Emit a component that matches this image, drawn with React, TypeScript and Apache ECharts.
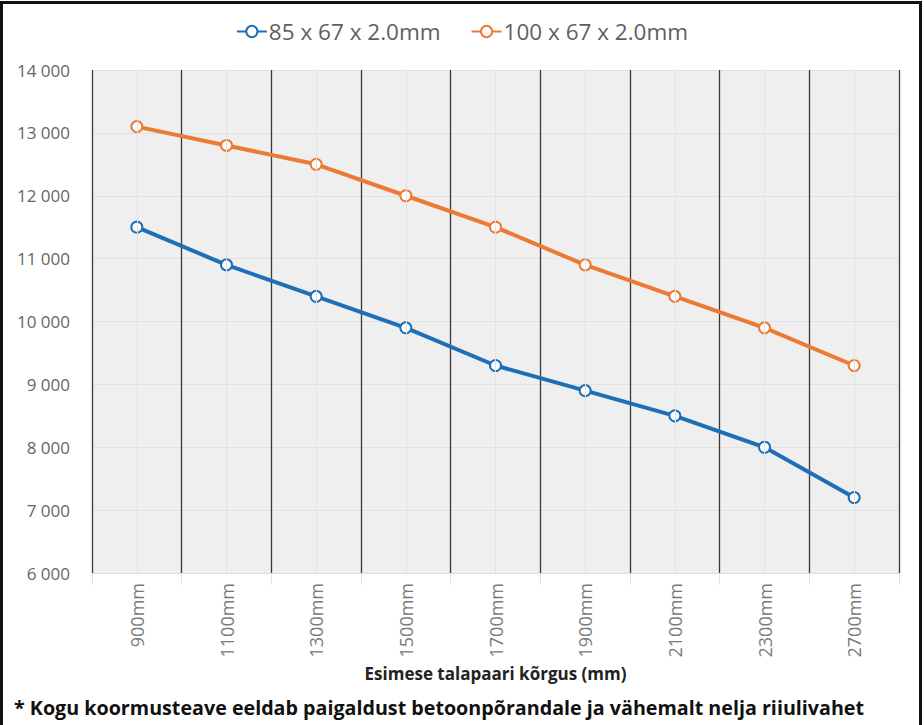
import React, { useEffect, useRef } from "react";
import * as echarts from "echarts";

const categories = ["900mm", "1100mm", "1300mm", "1500mm", "1700mm", "1900mm", "2100mm", "2300mm", "2700mm"];
const seriesA = [11500, 10900, 10400, 9900, 9300, 8900, 8500, 8000, 7200];
const seriesB = [13100, 12800, 12500, 12000, 11500, 10900, 10400, 9900, 9300];
const nameA = "85 x 67 x 2.0mm";
const nameB = "100 x 67 x 2.0mm";
const xAxisTitle = "Esimese talapaari kõrgus (mm)";
const footnote = "* Kogu koormusteave eeldab paigaldust betoonpõrandale ja vähemalt nelja riiulivahet";

const FONT = "'Open Sans', 'Noto Sans', sans-serif";

export default function App() {
  const ref = useRef<HTMLDivElement>(null);
  useEffect(() => {
    if (!ref.current) return;
    const chart = echarts.init(ref.current, undefined, { renderer: "svg" });
    chart.setOption({
      animation: false,
      backgroundColor: "#ffffff",
      textStyle: { fontFamily: FONT },
      legend: {
        data: [nameA, nameB],
        top: 15,
        left: "center",
        itemWidth: 30,
        itemHeight: 14,
        itemGap: 30,
        textStyle: { fontSize: 22.5, color: "#5f5f5f", fontFamily: FONT, padding: [0, 0, 0, -3] },
      },
      grid: {
        left: 92,
        right: 25,
        top: 70,
        bottom: 152,
        show: true,
        backgroundColor: "#efefef",
        borderWidth: 0,
      },
      xAxis: {
        type: "category",
        data: categories,
        boundaryGap: true,
        name: xAxisTitle,
        nameLocation: "middle",
        nameGap: 90,
        nameTextStyle: { fontSize: 17, fontWeight: "bold", color: "#222", fontFamily: FONT },
        axisLine: { show: true, lineStyle: { color: "#dcdcdc" } },
        axisTick: { show: true, length: 12, lineStyle: { color: "#e3e3e3" } },
        axisLabel: { rotate: 90, margin: 10, fontSize: 18, color: "#7a7a7a", fontFamily: FONT },
        splitLine: { show: true, lineStyle: { color: "#3a3a3a", width: 1.3 } },
      },
      yAxis: {
        type: "value",
        min: 6000,
        max: 14000,
        interval: 1000,
        axisLine: { show: false },
        axisTick: { show: false },
        axisLabel: {
          margin: 22,
          fontSize: 17,
          color: "#666666",
          fontFamily: FONT,
          formatter: (v: number) => String(v).replace(/\B(?=(\d{3})+(?!\d))/g, " "),
        },
        splitLine: { show: true, lineStyle: { color: "#e2e2e2", width: 1 } },
      },
      series: [
        {
          name: "centers",
          type: "line",
          data: categories.map(() => null),
          z: 1,
          silent: true,
          markLine: {
            silent: true,
            symbol: "none",
            label: { show: false },
            lineStyle: { color: "#e2e2e2", type: "solid", width: 1 },
            data: categories.map((c) => ({ xAxis: c })),
          },
        },
        {
          name: nameA,
          type: "line",
          data: seriesA,
          symbol: "emptyCircle",
          symbolSize: 11,
          color: "#1f6fb6",
          lineStyle: { width: 4, color: "#1f6fb6" },
          itemStyle: { color: "#1f6fb6", borderWidth: 3 },
          z: 3,
        },
        {
          name: nameB,
          type: "line",
          data: seriesB,
          symbol: "emptyCircle",
          symbolSize: 11,
          color: "#ec7a35",
          lineStyle: { width: 4, color: "#ec7a35" },
          itemStyle: { color: "#ec7a35", borderWidth: 3 },
          z: 3,
        },
      ],
      graphic: [
        {
          type: "rect",
          shape: { x: 1.5, y: 2.5, width: 919, height: 760 },
          style: { fill: "none", stroke: "#111", lineWidth: 3 },
          silent: true,
        },
        {
          type: "text",
          left: 14,
          top: 697,
          style: {
            text: footnote,
            fontSize: 19.7,
            fontWeight: "bold",
            fill: "#111",
            fontFamily: FONT,
          },
        },
      ],
    });
    return () => chart.dispose();
  }, []);
  return (
    <div
      ref={ref}
      style={{ position: "fixed", left: 0, top: 0, width: 924, height: 725 }}
    />
  );
}
